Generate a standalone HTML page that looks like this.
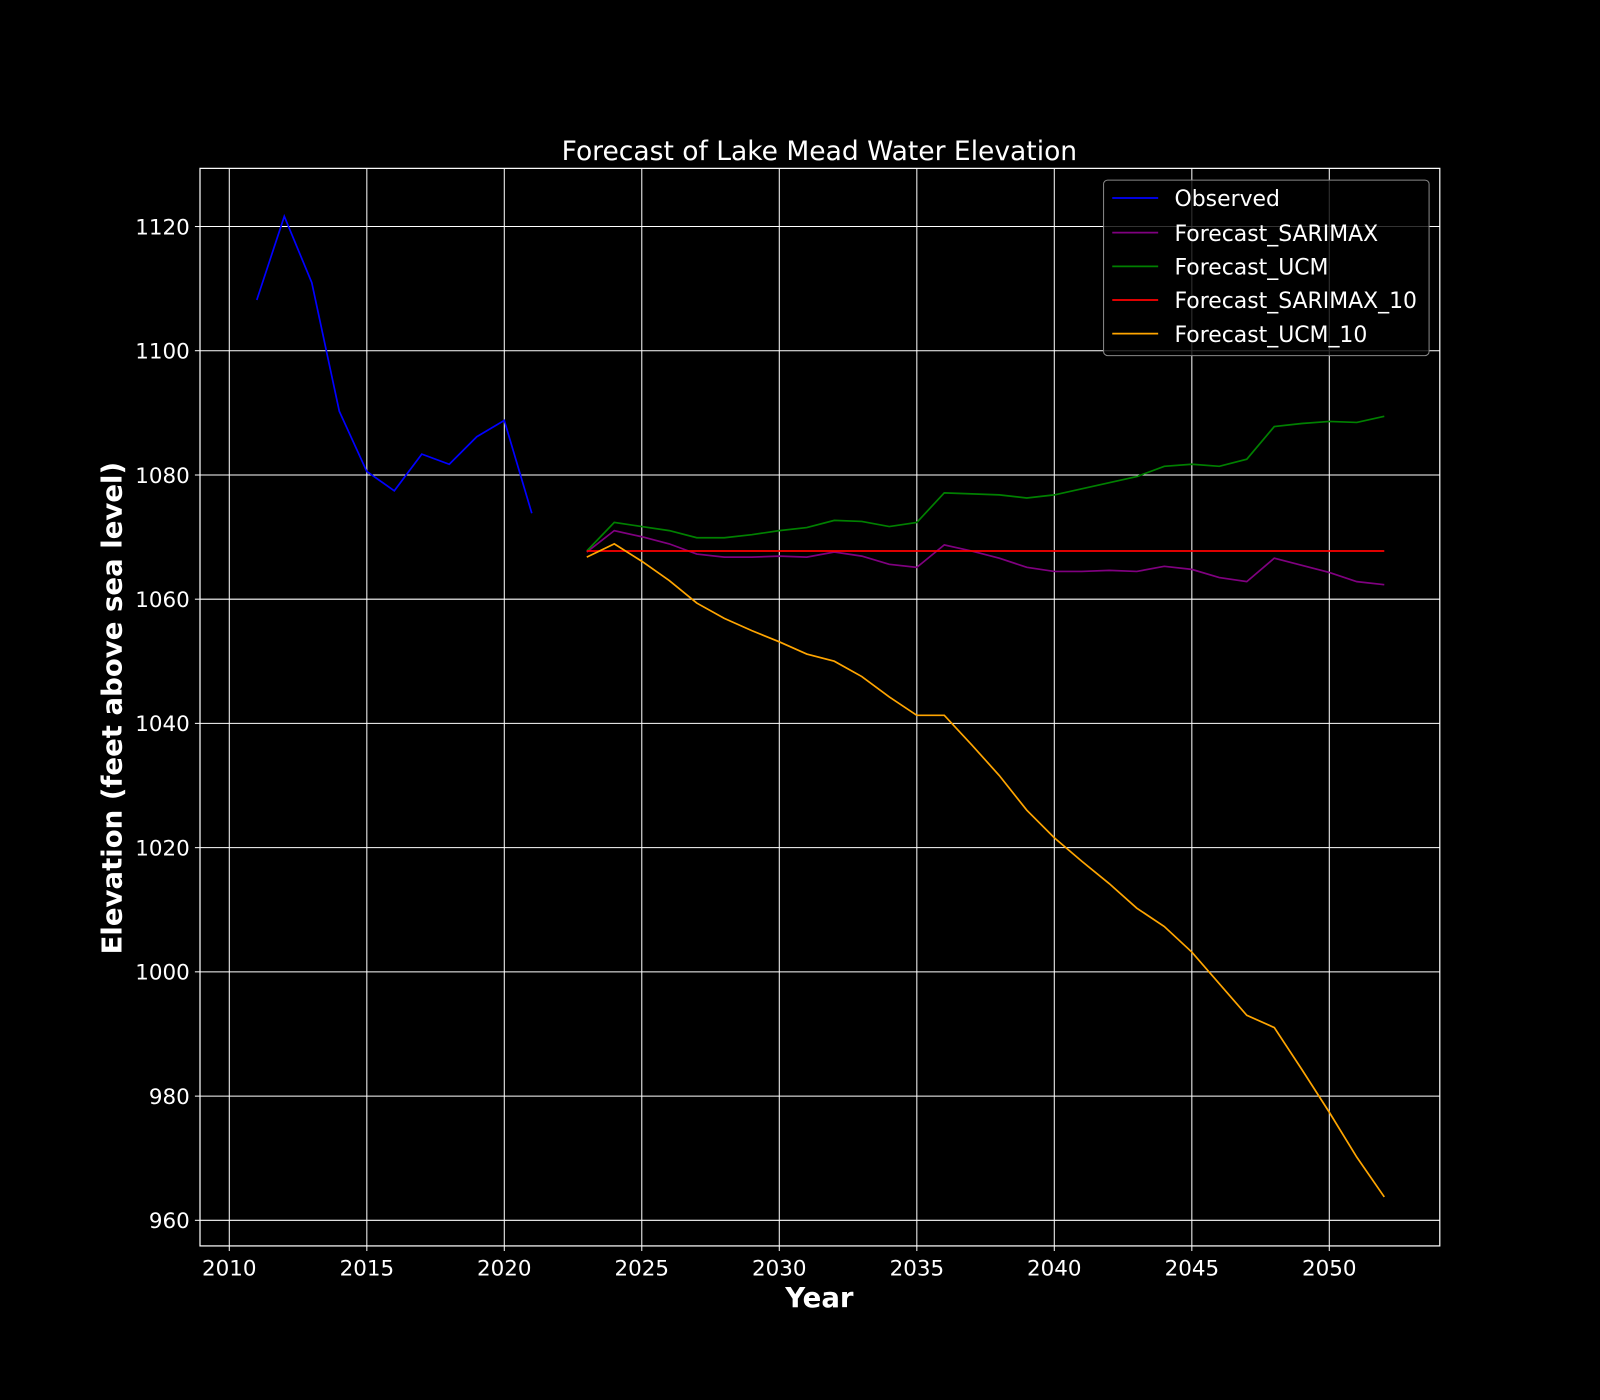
<!DOCTYPE html>
<html><head><meta charset="utf-8"><style>
html,body{margin:0;padding:0;background:#000;}
svg{display:block;}
text{font-family:"DejaVu Sans","Liberation Sans",sans-serif;fill:#fff;}
</style></head><body>
<svg width="1600" height="1400" viewBox="0 0 1568 1372" xmlns="http://www.w3.org/2000/svg">
<rect width="1568" height="1372" fill="#000"/>
<g stroke="#fff" stroke-width="1">
<line x1="224.7" y1="165" x2="224.7" y2="1221"/>
<line x1="359.5" y1="165" x2="359.5" y2="1221"/>
<line x1="494.2" y1="165" x2="494.2" y2="1221"/>
<line x1="628.95" y1="165" x2="628.95" y2="1221"/>
<line x1="763.7" y1="165" x2="763.7" y2="1221"/>
<line x1="898.5" y1="165" x2="898.5" y2="1221"/>
<line x1="1033.2" y1="165" x2="1033.2" y2="1221"/>
<line x1="1168" y1="165" x2="1168" y2="1221"/>
<line x1="1302.7" y1="165" x2="1302.7" y2="1221"/>
<line x1="196" y1="1195.9" x2="1411" y2="1195.9"/>
<line x1="196" y1="1074.2" x2="1411" y2="1074.2"/>
<line x1="196" y1="952.4" x2="1411" y2="952.4"/>
<line x1="196" y1="830.7" x2="1411" y2="830.7"/>
<line x1="196" y1="708.9" x2="1411" y2="708.9"/>
<line x1="196" y1="587.2" x2="1411" y2="587.2"/>
<line x1="196" y1="465.5" x2="1411" y2="465.5"/>
<line x1="196" y1="343.7" x2="1411" y2="343.7"/>
<line x1="196" y1="222" x2="1411" y2="222"/>
<line x1="224.7" y1="1221" x2="224.7" y2="1226"/>
<line x1="359.5" y1="1221" x2="359.5" y2="1226"/>
<line x1="494.2" y1="1221" x2="494.2" y2="1226"/>
<line x1="628.95" y1="1221" x2="628.95" y2="1226"/>
<line x1="763.7" y1="1221" x2="763.7" y2="1226"/>
<line x1="898.5" y1="1221" x2="898.5" y2="1226"/>
<line x1="1033.2" y1="1221" x2="1033.2" y2="1226"/>
<line x1="1168" y1="1221" x2="1168" y2="1226"/>
<line x1="1302.7" y1="1221" x2="1302.7" y2="1226"/>
<line x1="191" y1="1195.9" x2="196" y2="1195.9"/>
<line x1="191" y1="1074.2" x2="196" y2="1074.2"/>
<line x1="191" y1="952.4" x2="196" y2="952.4"/>
<line x1="191" y1="830.7" x2="196" y2="830.7"/>
<line x1="191" y1="708.9" x2="196" y2="708.9"/>
<line x1="191" y1="587.2" x2="196" y2="587.2"/>
<line x1="191" y1="465.5" x2="196" y2="465.5"/>
<line x1="191" y1="343.7" x2="196" y2="343.7"/>
<line x1="191" y1="222" x2="196" y2="222"/>
</g>
<g transform="translate(224.7,0) scale(26.95,1)" fill="none" stroke-width="1.7">
<polyline vector-effect="non-scaling-stroke" stroke="#0000ff" points="1,294 2,212 3,277 4,403 5,462 6,481 7,445 8,455 9,428 10,412 11,503"/>
<polyline vector-effect="non-scaling-stroke" stroke="#800080" points="13,541 14,520 15,526 16,533 17,543 18,546 19,546 20,545 21,546 22,541 23,545 24,553 25,556 26,534 27,540 28,547 29,556 30,560 31,560 32,559 33,560 34,555 35,558 36,566 37,570 38,547 39,554 40,561 41,570 42,573"/>
<polyline vector-effect="non-scaling-stroke" stroke="#008000" points="13,540 14,512 15,516 16,520 17,527 18,527 19,524 20,520 21,517 22,510 23,511 24,516 25,512 26,483 27,484 28,485 29,488 30,485 31,479 32,473 33,467 34,457 35,455 36,457 37,450 38,418 39,415 40,413 41,414 42,408"/>
<polyline vector-effect="non-scaling-stroke" stroke="#ff0000" points="13,540 42,540"/>
<polyline vector-effect="non-scaling-stroke" stroke="#ffa500" points="13,546 14,533 15,550 16,569 17,591 18,606 19,618 20,629 21,641 22,648 23,663 24,683 25,701 26,701 27,730 28,760 29,794 30,821 31,844 32,866 33,890 34,908 35,933 36,964 37,995 38,1007 39,1048 40,1090 41,1134 42,1173"/>
</g>
<rect x="196" y="165" width="1215" height="1056" fill="none" stroke="#fff" stroke-width="1.2"/>
<rect x="1081.5" y="176.5" width="319" height="172" rx="4" fill="#000" fill-opacity="0.8" stroke="#888" stroke-width="1"/>
<g stroke-width="1.7">
<line x1="1090" y1="194" x2="1135" y2="194" stroke="#0000ff"/>
<line x1="1090" y1="228" x2="1135" y2="228" stroke="#800080"/>
<line x1="1090" y1="261" x2="1135" y2="261" stroke="#008000"/>
<line x1="1090" y1="294" x2="1135" y2="294" stroke="#ff0000"/>
<line x1="1090" y1="327" x2="1135" y2="327" stroke="#ffa500"/>
</g>
<g font-size="21.5">
<text x="1151" y="202">Observed</text>
<text x="1151" y="236">Forecast_SARIMAX</text>
<text x="1151" y="269">Forecast_UCM</text>
<text x="1151" y="302">Forecast_SARIMAX_10</text>
<text x="1151" y="335">Forecast_UCM_10</text>
</g>
<g font-size="21" text-anchor="middle">
<text x="224.7" y="1250">2010</text>
<text x="359.5" y="1250">2015</text>
<text x="494.2" y="1250">2020</text>
<text x="628.95" y="1250">2025</text>
<text x="763.7" y="1250">2030</text>
<text x="898.5" y="1250">2035</text>
<text x="1033.2" y="1250">2040</text>
<text x="1168" y="1250">2045</text>
<text x="1302.7" y="1250">2050</text>
</g>
<g font-size="21" text-anchor="end">
<text x="186" y="1203.5">960</text>
<text x="186" y="1081.8">980</text>
<text x="186" y="960">1000</text>
<text x="186" y="838.3">1020</text>
<text x="186" y="716.5">1040</text>
<text x="186" y="594.8">1060</text>
<text x="186" y="473.1">1080</text>
<text x="186" y="351.3">1100</text>
<text x="186" y="229.6">1120</text>
</g>
<text x="803" y="157" font-size="26" text-anchor="middle">Forecast of Lake Mead Water Elevation</text>
<text x="803" y="1281" font-size="27" font-weight="bold" text-anchor="middle">Year</text>
<text transform="translate(119,694) rotate(-90)" font-size="27" font-weight="bold" text-anchor="middle">Elevation (feet above sea level)</text>
</svg>
</body></html>
